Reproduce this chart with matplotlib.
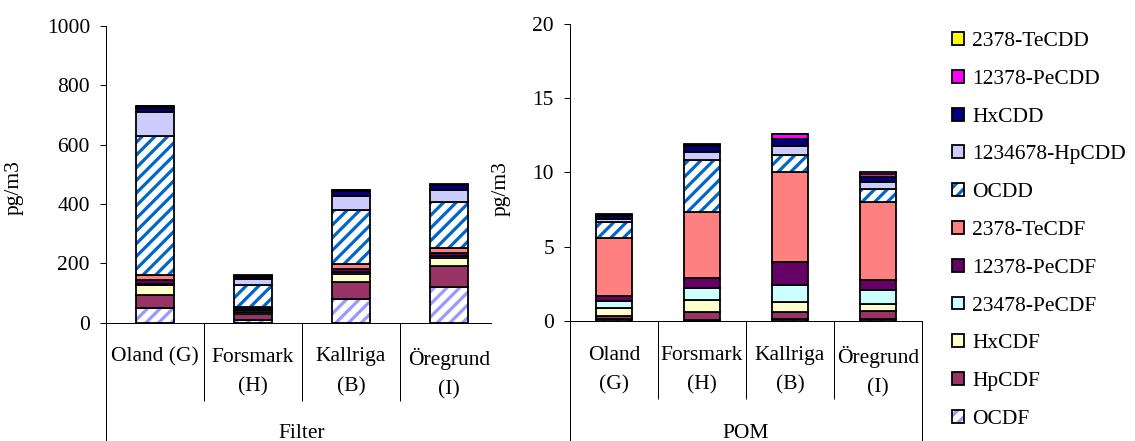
import numpy as np
import matplotlib
matplotlib.use('Agg')
import matplotlib.pyplot as plt
from matplotlib.patches import Patch
from matplotlib.lines import Line2D
from matplotlib.transforms import blended_transform_factory

# series, bottom -> top of each stack
series = ['OCDF', 'HpCDF', 'HxCDF', '23478-PeCDF', '12378-PeCDF', '2378-TeCDF',
          'OCDD', '1234678-HpCDD', 'HxCDD', '12378-PeCDD', '2378-TeCDD']
colores = ['white', '#993366', '#FFFFCC', '#CCFFFF', '#660066', '#FF8080',
           'white', '#CCCCFF', '#000080', '#FF00FF', '#FFFF00']
rayas = ['#9999FF', None, None, None, None, None,
         '#0066CC', None, None, None, None]

cat_filter = ['Oland (G)', 'Forsmark\n(H)', 'Kallriga\n(B)', 'Öregrund\n(I)']
cat_pom = ['Oland\n(G)', 'Forsmark\n(H)', 'Kallriga\n(B)', 'Öregrund\n(I)']

# pg/m3, one row per series (same order as 'series'), columns = sites
filtro = [
    [50, 10, 80, 120],     # OCDF
    [42, 17, 58, 72],      # HpCDF
    [35, 10, 25, 25],      # HxCDF
    [4, 5, 7, 8],          # 23478-PeCDF
    [14, 6, 11, 10],       # 12378-PeCDF
    [16, 5, 17, 16],       # 2378-TeCDF
    [469, 73, 182, 157],   # OCDD
    [80, 21, 45, 39],      # 1234678-HpCDD
    [14, 8, 20, 17],       # HxCDD
    [5, 3, 1, 1],          # 12378-PeCDD
    [2, 2, 1, 1],          # 2378-TeCDD
]
pom = [
    [0.10, 0.07, 0.09, 0.09],
    [0.25, 0.54, 0.49, 0.54],
    [0.50, 0.76, 0.67, 0.52],
    [0.50, 0.81, 1.19, 0.94],
    [0.30, 0.70, 1.53, 0.67],
    [3.95, 4.45, 6.04, 5.23],
    [1.03, 3.53, 1.19, 0.92],
    [0.20, 0.49, 0.56, 0.42],
    [0.20, 0.40, 0.50, 0.36],
    [0.07, 0.10, 0.32, 0.18],
    [0.07, 0.09, 0.03, 0.17],
]

DPI = 76
W, H = 1135, 441
def pt(px):
    return px * 72 / DPI

plt.rcParams['font.family'] = ['Liberation Serif', 'DejaVu Serif']
plt.rcParams['hatch.linewidth'] = pt(3.2)
fs = pt(21.5)

fig = plt.figure(figsize=(W / DPI, H / DPI), dpi=DPI)
ax1 = fig.add_axes([106 / W, 118.5 / H, 385 / W, 296.5 / H])
ax2 = fig.add_axes([570 / W, 120.3 / H, 352 / W, 296.7 / H])


def apilar(ax, datos, ancho):
    x = np.arange(4)
    base = np.zeros(4)
    for i, nombre in enumerate(series):
        v = np.array(datos[i], dtype=float)
        if rayas[i]:
            ax.bar(x, v, ancho, bottom=base, color=colores[i], edgecolor=rayas[i],
                   hatch='//', linewidth=0)
        else:
            ax.bar(x, v, ancho, bottom=base, color=colores[i], linewidth=0)
        ax.bar(x, v, ancho, bottom=base, fill=False, edgecolor='black', linewidth=pt(1.8))
        base += v


def ejes(ax, cats, ymax, paso, grupo, xmax, ylab_x, ylab_y, con_borde_der):
    ax.set_xlim(-0.5, xmax)
    ax.set_ylim(0, ymax)
    ax.set_yticks(np.arange(0, ymax + 1e-9, paso))
    ax.tick_params(axis='y', direction='out', length=pt(6), width=pt(1), pad=pt(10),
                   labelsize=fs)
    ax.set_ylabel('pg/m3', fontsize=fs)
    ax.yaxis.set_label_coords(ylab_x, ylab_y)
    for s in ['top', 'right']:
        ax.spines[s].set_visible(False)
    for s in ['left', 'bottom']:
        ax.spines[s].set_linewidth(pt(1))
    # separators between categories
    limites = [0.5, 1.5, 2.5] + ([3.5] if con_borde_der else [])
    ax.set_xticks(limites)
    ax.set_xticklabels([])
    ax.tick_params(axis='x', which='major', direction='out', length=pt(78), width=pt(1))
    ax.set_xticks(np.arange(4), minor=True)
    ax.set_xticklabels(cats, minor=True, fontsize=fs, linespacing=1.75)
    ax.tick_params(axis='x', which='minor', length=0, pad=pt(25))
    # outer lines down to the bottom edge
    tr = blended_transform_factory(ax.transData, fig.transFigure)
    y0 = ax.transAxes.transform((0, 0))[1] / (H)
    bordes = [-0.5] + ([3.5] if con_borde_der else [])
    for xb in bordes:
        fig.add_artist(Line2D([xb, xb], [-0.05, y0], transform=tr, color='black',
                              linewidth=pt(1), clip_on=False))
    ax.text(1.5, 3.3 / H, grupo, transform=tr, ha='center', va='baseline', fontsize=fs)


apilar(ax1, filtro, 0.39)
apilar(ax2, pom, 0.41)
ejes(ax1, cat_filter, 1000, 200, 'Filter', 3.43, -0.214, 0.454, False)
ejes(ax2, cat_pom, 20, 5, 'POM', 3.5, -0.170, 0.447, True)

# legend, top entry first
handles = []
for i in range(len(series) - 1, -1, -1):
    if rayas[i]:
        h1 = Patch(facecolor=colores[i], edgecolor=rayas[i], hatch='//', linewidth=0)
    else:
        h1 = Patch(facecolor=colores[i], linewidth=0)
    h2 = Patch(fill=False, edgecolor='black', linewidth=pt(1.8))
    handles.append((h1, h2))
etiquetas = series[::-1]
fig.legend(handles, etiquetas, loc='upper left',
           bbox_to_anchor=(951.7 / W, 1 - 32 / H), frameon=False,
           fontsize=fs, handlelength=0.55, handleheight=0.55, handletextpad=0.4,
           labelspacing=0.87, borderpad=0, borderaxespad=0)

fig.savefig('out.png', dpi=DPI)
